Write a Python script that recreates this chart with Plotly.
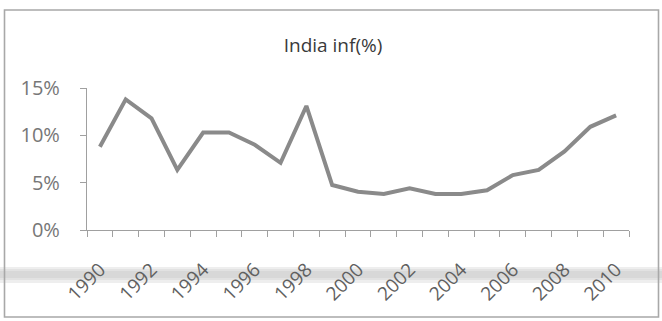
import plotly.graph_objects as go

# India annual inflation, percent
years = list(range(1990, 2011))
inflation = [8.8, 13.8, 11.8, 6.35, 10.3, 10.3, 9.0, 7.1, 13.1, 4.75,
             4.05, 3.8, 4.4, 3.8, 3.8, 4.2, 5.8, 6.35, 8.3, 10.9, 12.1]
y_ticks = [0, 5, 10, 15]
y_tick_text = ["0%", "5%", "10%", "15%"]
x_ticks = list(range(1990, 2011, 2))

W, H = 662, 321
L, R, T, B = 87, 33, 88, 91
pw, ph = W - L - R, H - T - B


def px(x):
    return (x - L) / pw


def py(y):
    return (H - B - y) / ph


fig = go.Figure()
fig.add_trace(go.Scatter(
    x=years, y=inflation, mode="lines",
    line=dict(color="#8a8a8a", width=4),
    showlegend=False, hoverinfo="skip",
))

shapes = []
# soft grey strip running across the sheet
band = [(267, 269, "#eeeeee"), (269, 271, "#e2e2e2"), (271, 278, "#d8d8d8"),
        (278, 280, "#e2e2e2"), (280, 283, "#eeeeee")]
for y0, y1, c in band:
    shapes.append(dict(type="rect", xref="paper", yref="paper",
                       x0=px(0), x1=px(W), y0=py(y1), y1=py(y0),
                       fillcolor=c, line=dict(width=0, color=c), layer="below"))
# chart frame
shapes.append(dict(type="rect", xref="paper", yref="paper",
                   x0=px(4.5), x1=px(658.5), y0=py(317), y1=py(10),
                   line=dict(color="#a8a8a8", width=1.6), fillcolor="rgba(0,0,0,0)"))

fig.update_layout(
    width=W, height=H,
    margin=dict(l=L, r=R, t=T, b=B, pad=0),
    paper_bgcolor="white", plot_bgcolor="white",
    shapes=shapes,
    title=dict(text="India inf(%)", x=333 / W, xref="container", xanchor="center",
               y=1 - 45 / H, yref="container", yanchor="middle",
               font=dict(family="Open Sans", size=19, color="#3a3a3a")),
    xaxis=dict(
        range=[1989.5, 2010.5], tickmode="array", tickvals=x_ticks,
        ticktext=[str(v) for v in x_ticks], tickangle=-45,
        ticks="", showgrid=False, zeroline=False,
        showline=True, linecolor="#a0a0a0", linewidth=1.2,
        tickfont=dict(family="Open Sans", size=19, color="#606060"),
        ticklabelstandoff=20,
        minor=dict(ticks="outside", tick0=1989.5, dtick=1, ticklen=6,
                   tickcolor="#a0a0a0", tickwidth=1, showgrid=False),
    ),
    yaxis=dict(
        range=[0, 15], tickmode="array", tickvals=y_ticks, ticktext=y_tick_text,
        ticks="outside", ticklen=6, tickcolor="#a0a0a0", tickwidth=1,
        showgrid=False, zeroline=False,
        showline=True, linecolor="#a0a0a0", linewidth=1.2,
        tickfont=dict(family="Open Sans", size=20, color="#777777"),
        ticklabelstandoff=16,
    ),
)

fig.write_html("out.html")
